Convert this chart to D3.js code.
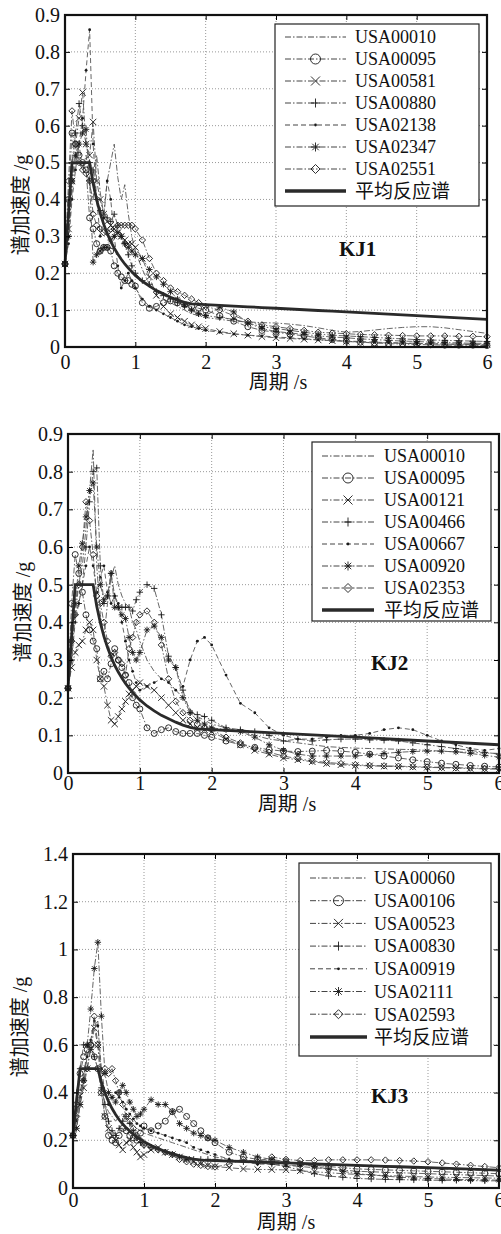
<!DOCTYPE html>
<html>
<head>
<meta charset="utf-8">
<script src="https://cdn.jsdelivr.net/npm/d3@7"></script>
<style>
  body { margin: 0; background: #fff; }
  svg { display: block; }
  svg text { font-family: "Liberation Serif", "Times New Roman", "Noto Sans CJK SC", serif; }
</style>
</head>
<body>
<script>
// period grid (s) shared by every spectrum
const periods = [0, 0.05, 0.1, 0.15, 0.2, 0.25, 0.3, 0.35, 0.4, 0.45, 0.5, 0.55, 0.6, 0.65, 0.7, 0.75, 0.8, 0.85, 0.9, 0.95, 1.0,
  1.1, 1.2, 1.3, 1.4, 1.5, 1.6, 1.7, 1.8, 1.9, 2.0,
  2.2, 2.4, 2.6, 2.8, 3.0, 3.2, 3.4, 3.6, 3.8, 4.0, 4.2, 4.4, 4.6, 4.8, 5.0, 5.2, 5.4, 5.6, 5.8, 6.0];

const meanSpectrum = [0.225, 0.3625, 0.5, 0.5, 0.5, 0.5, 0.5, 0.5, 0.443, 0.399, 0.363, 0.333, 0.308, 0.286, 0.268, 0.252, 0.238, 0.225, 0.214, 0.204, 0.194,
  0.178, 0.165, 0.153, 0.144, 0.135, 0.127, 0.121, 0.117, 0.116, 0.115,
  0.113, 0.111, 0.109, 0.107, 0.105, 0.103, 0.101, 0.099, 0.097, 0.095, 0.093, 0.091, 0.089, 0.087, 0.085, 0.083, 0.081, 0.079, 0.077, 0.075];

const xTicks = [0, 1, 2, 3, 4, 5, 6];
const yTicksKJ12 = [0, 0.1, 0.2, 0.3, 0.4, 0.5, 0.6, 0.7, 0.8, 0.9];
const yTicksKJ3 = [0, 0.2, 0.4, 0.6, 0.8, 1.0, 1.2, 1.4];

// KJ1
const kj1Names = ["USA00010", "USA00095", "USA00581", "USA00880", "USA02138", "USA02347", "USA02551"];
const kj1Spectra = [
  [0.225, 0.30, 0.42, 0.50, 0.55, 0.48, 0.52, 0.44, 0.40, 0.52, 0.42, 0.36, 0.45, 0.50, 0.55, 0.46, 0.40, 0.44, 0.36, 0.30, 0.26,
   0.21, 0.17, 0.15, 0.13, 0.12, 0.11, 0.10, 0.09, 0.085, 0.08,
   0.075, 0.07, 0.068, 0.066, 0.065, 0.062, 0.058, 0.052, 0.045, 0.04, 0.042, 0.046, 0.05, 0.053, 0.055, 0.055, 0.052, 0.047, 0.042, 0.037],
  [0.225, 0.40, 0.58, 0.55, 0.52, 0.50, 0.48, 0.35, 0.32, 0.28, 0.26, 0.27, 0.27, 0.26, 0.22, 0.20, 0.19, 0.18, 0.18, 0.17, 0.165,
   0.12, 0.105, 0.11, 0.12, 0.125, 0.12, 0.115, 0.11, 0.105, 0.10,
   0.085, 0.07, 0.055, 0.045, 0.04, 0.035, 0.03, 0.025, 0.02, 0.016, 0.013, 0.011, 0.009, 0.008, 0.007, 0.006, 0.005, 0.005, 0.005, 0.004],
  [0.225, 0.32, 0.45, 0.55, 0.62, 0.69, 0.55, 0.52, 0.61, 0.45, 0.40, 0.36, 0.34, 0.33, 0.32, 0.31, 0.30, 0.29, 0.28, 0.28, 0.27,
   0.24, 0.19, 0.14, 0.11, 0.09, 0.08, 0.07, 0.06, 0.055, 0.05,
   0.042, 0.036, 0.032, 0.028, 0.025, 0.023, 0.021, 0.019, 0.017, 0.015, 0.013, 0.012, 0.011, 0.010, 0.009, 0.009, 0.008, 0.008, 0.007, 0.007],
  [0.225, 0.30, 0.50, 0.58, 0.66, 0.60, 0.55, 0.50, 0.48, 0.40, 0.37, 0.36, 0.35, 0.34, 0.36, 0.33, 0.30, 0.28, 0.25, 0.22, 0.20,
   0.18, 0.17, 0.15, 0.14, 0.13, 0.12, 0.11, 0.10, 0.09, 0.085,
   0.08, 0.075, 0.065, 0.055, 0.05, 0.045, 0.04, 0.035, 0.032, 0.03, 0.028, 0.026, 0.024, 0.022, 0.02, 0.019, 0.018, 0.017, 0.016, 0.015],
  [0.225, 0.28, 0.40, 0.48, 0.55, 0.62, 0.75, 0.86, 0.55, 0.40, 0.30, 0.35, 0.45, 0.40, 0.30, 0.22, 0.16, 0.18, 0.20, 0.18, 0.16,
   0.13, 0.11, 0.10, 0.09, 0.08, 0.07, 0.06, 0.055, 0.05, 0.045,
   0.04, 0.035, 0.032, 0.03, 0.027, 0.025, 0.022, 0.02, 0.018, 0.016, 0.015, 0.013, 0.012, 0.011, 0.01, 0.009, 0.008, 0.007, 0.006, 0.005],
  [0.225, 0.30, 0.45, 0.52, 0.55, 0.58, 0.59, 0.45, 0.23, 0.25, 0.26, 0.27, 0.27, 0.29, 0.30, 0.31, 0.30, 0.28, 0.27, 0.26, 0.25,
   0.24, 0.21, 0.19, 0.17, 0.15, 0.13, 0.115, 0.10, 0.09, 0.085,
   0.108, 0.095, 0.065, 0.05, 0.042, 0.038, 0.034, 0.03, 0.027, 0.025, 0.022, 0.02, 0.018, 0.016, 0.015, 0.013, 0.012, 0.011, 0.01, 0.01],
  [0.225, 0.45, 0.64, 0.55, 0.50, 0.48, 0.47, 0.45, 0.36, 0.33, 0.32, 0.31, 0.31, 0.32, 0.32, 0.33, 0.33, 0.33, 0.33, 0.33, 0.32,
   0.29, 0.24, 0.20, 0.18, 0.16, 0.15, 0.14, 0.13, 0.12, 0.11,
   0.10, 0.085, 0.07, 0.06, 0.055, 0.05, 0.045, 0.04, 0.038, 0.036, 0.034, 0.033, 0.032, 0.031, 0.03, 0.03, 0.03, 0.029, 0.029, 0.028]
];

// KJ2
const kj2Names = ["USA00010", "USA00095", "USA00121", "USA00466", "USA00667", "USA00920", "USA02353"];
const kj2Spectra = [
  [0.225, 0.35, 0.45, 0.50, 0.55, 0.65, 0.75, 0.86, 0.55, 0.42, 0.36, 0.45, 0.52, 0.55, 0.50, 0.47, 0.45, 0.44, 0.40, 0.38, 0.35,
   0.30, 0.27, 0.25, 0.24, 0.22, 0.20, 0.17, 0.15, 0.14, 0.13,
   0.12, 0.11, 0.10, 0.09, 0.085, 0.08, 0.075, 0.07, 0.068, 0.066, 0.065, 0.064, 0.063, 0.062, 0.06, 0.058, 0.056, 0.055, 0.053, 0.052],
  [0.225, 0.45, 0.58, 0.53, 0.48, 0.42, 0.38, 0.35, 0.33, 0.25, 0.27, 0.25, 0.29, 0.33, 0.30, 0.28, 0.26, 0.24, 0.20, 0.18, 0.17,
   0.12, 0.105, 0.115, 0.12, 0.11, 0.105, 0.105, 0.105, 0.10, 0.095,
   0.085, 0.075, 0.068, 0.062, 0.058, 0.057, 0.058, 0.06, 0.058, 0.055, 0.05, 0.045, 0.04, 0.035, 0.03, 0.026, 0.023, 0.02, 0.018, 0.016],
  [0.225, 0.28, 0.32, 0.34, 0.35, 0.38, 0.40, 0.38, 0.30, 0.25, 0.23, 0.18, 0.14, 0.13, 0.15, 0.17, 0.19, 0.21, 0.22, 0.23, 0.24,
   0.23, 0.22, 0.20, 0.18, 0.16, 0.14, 0.13, 0.12, 0.115, 0.11,
   0.09, 0.075, 0.06, 0.05, 0.04, 0.035, 0.03, 0.025, 0.022, 0.02, 0.019, 0.018, 0.017, 0.016, 0.015, 0.014, 0.013, 0.012, 0.011, 0.01],
  [0.225, 0.30, 0.42, 0.45, 0.50, 0.60, 0.72, 0.80, 0.81, 0.55, 0.45, 0.47, 0.53, 0.47, 0.44, 0.44, 0.44, 0.44, 0.43, 0.46, 0.48,
   0.50, 0.49, 0.42, 0.31, 0.28, 0.22, 0.16, 0.155, 0.15, 0.14,
   0.12, 0.115, 0.11, 0.10, 0.085, 0.09, 0.085, 0.088, 0.09, 0.09, 0.088, 0.087, 0.085, 0.08, 0.075, 0.07, 0.065, 0.06, 0.055, 0.05],
  [0.225, 0.30, 0.40, 0.45, 0.50, 0.55, 0.60, 0.55, 0.48, 0.52, 0.55, 0.48, 0.45, 0.47, 0.45, 0.40, 0.35, 0.30, 0.27, 0.24, 0.22,
   0.23, 0.24, 0.25, 0.24, 0.22, 0.23, 0.30, 0.35, 0.36, 0.34,
   0.26, 0.185, 0.16, 0.12, 0.10, 0.09, 0.09, 0.095, 0.10, 0.10, 0.105, 0.115, 0.12, 0.115, 0.10, 0.085, 0.075, 0.065, 0.06, 0.065],
  [0.225, 0.35, 0.45, 0.55, 0.61, 0.68, 0.75, 0.77, 0.60, 0.50, 0.46, 0.47, 0.53, 0.44, 0.44, 0.42, 0.41, 0.36, 0.32, 0.30, 0.32,
   0.38, 0.39, 0.36, 0.30, 0.28, 0.20, 0.16, 0.14, 0.13, 0.12,
   0.115, 0.11, 0.095, 0.075, 0.06, 0.05, 0.045, 0.045, 0.045, 0.045, 0.048, 0.052, 0.055, 0.057, 0.058, 0.058, 0.056, 0.052, 0.047, 0.042],
  [0.225, 0.35, 0.42, 0.50, 0.60, 0.72, 0.67, 0.58, 0.47, 0.45, 0.40, 0.35, 0.31, 0.32, 0.30, 0.29, 0.26, 0.33, 0.36, 0.40, 0.42,
   0.43, 0.40, 0.34, 0.25, 0.19, 0.16, 0.14, 0.13, 0.12, 0.115,
   0.095, 0.08, 0.065, 0.055, 0.045, 0.038, 0.032, 0.028, 0.025, 0.022, 0.02, 0.019, 0.018, 0.017, 0.016, 0.015, 0.014, 0.013, 0.012, 0.012]
];

// KJ3
const kj3Names = ["USA00060", "USA00106", "USA00523", "USA00830", "USA00919", "USA02111", "USA02593"];
const kj3Spectra = [
  [0.22, 0.30, 0.40, 0.48, 0.55, 0.62, 0.68, 0.70, 0.45, 0.35, 0.32, 0.30, 0.28, 0.30, 0.31, 0.30, 0.28, 0.26, 0.25, 0.24, 0.23,
   0.22, 0.21, 0.20, 0.19, 0.18, 0.17, 0.16, 0.15, 0.14, 0.13,
   0.12, 0.11, 0.105, 0.10, 0.095, 0.09, 0.085, 0.08, 0.075, 0.07, 0.068, 0.066, 0.064, 0.062, 0.06, 0.058, 0.056, 0.054, 0.052, 0.05],
  [0.22, 0.35, 0.48, 0.55, 0.58, 0.60, 0.55, 0.50, 0.40, 0.30, 0.22, 0.20, 0.19, 0.22, 0.25, 0.24, 0.22, 0.21, 0.20, 0.23, 0.26,
   0.24, 0.26, 0.28, 0.32, 0.33, 0.30, 0.27, 0.24, 0.21, 0.19,
   0.15, 0.13, 0.12, 0.115, 0.11, 0.10, 0.095, 0.09, 0.085, 0.08, 0.078, 0.076, 0.074, 0.072, 0.07, 0.068, 0.066, 0.064, 0.062, 0.06],
  [0.22, 0.25, 0.35, 0.42, 0.50, 0.58, 0.67, 0.60, 0.40, 0.30, 0.25, 0.22, 0.20, 0.18, 0.16, 0.19, 0.20, 0.17, 0.15, 0.13, 0.14,
   0.16, 0.17, 0.15, 0.14, 0.13, 0.12, 0.11, 0.10, 0.095, 0.09,
   0.085, 0.08, 0.078, 0.077, 0.076, 0.072, 0.068, 0.064, 0.06, 0.057, 0.055, 0.052, 0.05, 0.048, 0.046, 0.045, 0.044, 0.043, 0.042, 0.041],
  [0.22, 0.40, 0.50, 0.60, 0.60, 0.58, 0.55, 0.50, 0.42, 0.35, 0.28, 0.24, 0.22, 0.25, 0.28, 0.30, 0.27, 0.24, 0.21, 0.19, 0.18,
   0.17, 0.16, 0.15, 0.14, 0.13, 0.12, 0.12, 0.12, 0.12, 0.12,
   0.115, 0.11, 0.105, 0.10, 0.09, 0.075, 0.06, 0.05, 0.045, 0.04, 0.038, 0.036, 0.035, 0.034, 0.033, 0.032, 0.032, 0.031, 0.03, 0.03],
  [0.22, 0.28, 0.38, 0.45, 0.55, 0.62, 0.70, 0.68, 0.50, 0.40, 0.35, 0.38, 0.40, 0.38, 0.36, 0.33, 0.31, 0.29, 0.27, 0.26, 0.25,
   0.24, 0.23, 0.22, 0.21, 0.20, 0.19, 0.17, 0.16, 0.15, 0.14,
   0.12, 0.11, 0.10, 0.10, 0.095, 0.095, 0.095, 0.095, 0.095, 0.095, 0.093, 0.09, 0.088, 0.085, 0.083, 0.08, 0.078, 0.076, 0.074, 0.072],
  [0.22, 0.25, 0.35, 0.45, 0.60, 0.75, 0.92, 1.03, 0.72, 0.48, 0.40, 0.38, 0.36, 0.40, 0.43, 0.40, 0.36, 0.33, 0.30, 0.31, 0.33,
   0.37, 0.35, 0.35, 0.32, 0.27, 0.25, 0.23, 0.22, 0.21, 0.20,
   0.17, 0.15, 0.13, 0.12, 0.11, 0.10, 0.09, 0.08, 0.07, 0.06, 0.055, 0.05, 0.045, 0.042, 0.04, 0.038, 0.036, 0.035, 0.034, 0.033],
  [0.22, 0.30, 0.40, 0.45, 0.50, 0.60, 0.72, 0.60, 0.48, 0.50, 0.48, 0.50, 0.45, 0.40, 0.35, 0.30, 0.28, 0.25, 0.22, 0.20, 0.18,
   0.17, 0.16, 0.15, 0.14, 0.12, 0.11, 0.10, 0.095, 0.09, 0.088,
   0.10, 0.12, 0.11, 0.13, 0.12, 0.115, 0.115, 0.118, 0.118, 0.118, 0.118, 0.117, 0.115, 0.113, 0.11, 0.105, 0.10, 0.095, 0.09, 0.085]
];

const markerKinds = ["none", "circle", "x", "plus", "dot", "star", "diamond"];

const svg = d3.select("body").append("svg")
    .attr("width", 501)
    .attr("height", 1234);

// marker glyph path, MATLAB style
function markerPath(kind, s) {
  const t = s * 0.72;
  switch (kind) {
    case "x": return `M${-s},${-s}L${s},${s}M${-s},${s}L${s},${-s}`;
    case "plus": return `M${-s},0H${s}M0,${-s}V${s}`;
    case "star": return `M${-s},0H${s}M0,${-s}V${s}M${-t},${-t}L${t},${t}M${-t},${t}L${t},${-t}`;
    case "diamond": return `M0,${-s}L${s},0L0,${s}L${-s},0Z`;
  }
  return null;
}

function addMarkers(sel, kind, s) {
  if (kind === "none") return;
  if (kind === "circle") {
    sel.append("circle").attr("r", s).attr("fill", "none").attr("stroke", "#1a1a1a").attr("stroke-width", 0.9);
  } else if (kind === "dot") {
    sel.append("circle").attr("r", 1.4).attr("fill", "#1a1a1a");
  } else {
    sel.append("path").attr("d", markerPath(kind, s)).attr("fill", "none")
      .attr("stroke", "#1a1a1a").attr("stroke-width", 0.9);
  }
}

const dashFor = kind => kind === "dot" ? "5,3" : "6,2,1.5,2";

function drawPanel(p) {
  const g = svg.append("g");
  const x = d3.scaleLinear().domain([0, 6]).range([p.left, p.right]);
  const y = d3.scaleLinear().domain([0, p.yMax]).range([p.bottom, p.top]);

  // dotted grid
  g.append("g").selectAll("line").data(xTicks.slice(1, -1)).join("line")
      .attr("x1", d => x(d)).attr("x2", d => x(d))
      .attr("y1", p.top).attr("y2", p.bottom)
      .attr("stroke", "#999").attr("stroke-dasharray", "1,2");
  g.append("g").selectAll("line").data(p.yTicks.slice(1, -1)).join("line")
      .attr("x1", p.left).attr("x2", p.right)
      .attr("y1", d => y(d)).attr("y2", d => y(d))
      .attr("stroke", "#999").attr("stroke-dasharray", "1,2");

  const line = d3.line().x((d, i) => x(periods[i])).y(d => y(d));

  // records
  p.spectra.forEach((vals, k) => {
    const kind = markerKinds[k];
    g.append("path").datum(vals)
        .attr("d", line)
        .attr("fill", "none")
        .attr("stroke", "#555")
        .attr("stroke-width", 0.9)
        .attr("stroke-dasharray", dashFor(kind));
    const m = g.append("g").selectAll("g").data(vals).join("g")
        .attr("transform", (d, i) => `translate(${x(periods[i])},${y(d)})`);
    addMarkers(m, kind, kind === "circle" ? 3 : 3.2);
  });

  // mean response spectrum
  g.append("path").datum(meanSpectrum)
      .attr("d", line)
      .attr("fill", "none")
      .attr("stroke", "#2a2a2a")
      .attr("stroke-width", 2.8);

  // axes with inward ticks
  const fmt = d => String(+d.toFixed(1));
  const bottom = g.append("g").attr("transform", `translate(0,${p.bottom})`)
      .call(d3.axisBottom(x).tickValues(xTicks).tickFormat(fmt).tickSizeInner(-5).tickSizeOuter(0).tickPadding(p.xPad));
  const left = g.append("g").attr("transform", `translate(${p.left},0)`)
      .call(d3.axisLeft(y).tickValues(p.yTicks).tickFormat(fmt).tickSizeInner(-5).tickSizeOuter(0).tickPadding(5));
  g.append("g").attr("transform", `translate(0,${p.top})`)
      .call(d3.axisTop(x).tickValues(xTicks).tickFormat("").tickSizeInner(-5).tickSizeOuter(0));
  g.append("g").attr("transform", `translate(${p.right},0)`)
      .call(d3.axisRight(y).tickValues(p.yTicks).tickFormat("").tickSizeInner(-5).tickSizeOuter(0));
  g.selectAll(".domain").remove();
  [bottom, left].forEach(a => a.attr("font-family", null).attr("font-size", 20));
  g.selectAll(".tick text").attr("fill", "#111");

  g.append("rect")
      .attr("x", p.left).attr("y", p.top)
      .attr("width", p.right - p.left).attr("height", p.bottom - p.top)
      .attr("fill", "none").attr("stroke", "#111").attr("stroke-width", 2.2);

  // legend
  const L = p.legend;
  const lg = g.append("g");
  lg.append("rect")
      .attr("x", L.l).attr("y", L.t)
      .attr("width", L.r - L.l).attr("height", L.b - L.t)
      .attr("fill", "#fff").attr("stroke", "#222").attr("stroke-width", 1.2);
  p.names.forEach((name, k) => {
    const kind = markerKinds[k];
    const cy = L.row0 + k * L.dy;
    lg.append("line")
        .attr("x1", L.lx0).attr("x2", L.lx1).attr("y1", cy).attr("y2", cy)
        .attr("stroke", "#444").attr("stroke-width", 1)
        .attr("stroke-dasharray", dashFor(kind));
    const mk = lg.append("g").attr("transform", `translate(${(L.lx0 + L.lx1) / 2},${cy})`);
    addMarkers(mk, kind, kind === "circle" ? 5 : 4.5);
    lg.append("text")
        .attr("x", L.tx).attr("y", cy).attr("dy", "0.35em")
        .attr("font-size", 18).attr("fill", "#111")
        .text(name);
  });
  const cyMean = L.row0 + p.names.length * L.dy;
  lg.append("line")
      .attr("x1", L.lx0).attr("x2", L.lx1).attr("y1", cyMean).attr("y2", cyMean)
      .attr("stroke", "#2a2a2a").attr("stroke-width", 3.5);
  lg.append("text")
      .attr("x", L.tx).attr("y", cyMean).attr("dy", "0.36em")
      .attr("font-size", 19).attr("fill", "#111")
      .text("平均反应谱");

  // frame label
  g.append("text")
      .attr("x", p.kj[0]).attr("y", p.kj[1])
      .attr("font-size", 21).attr("font-weight", "bold").attr("fill", "#111")
      .text(p.label);

  // axis titles
  g.append("text")
      .attr("x", p.xt[0]).attr("y", p.xt[1])
      .attr("text-anchor", "middle")
      .attr("font-size", 20).attr("fill", "#111")
      .text("周期 /s");
  g.append("text")
      .attr("transform", `translate(${p.yt[0]},${p.yt[1]}) rotate(-90)`)
      .attr("text-anchor", "middle").attr("dy", "0.35em")
      .attr("font-size", 20).attr("fill", "#111")
      .text("谱加速度 /g");
}

drawPanel({
  names: kj1Names, spectra: kj1Spectra, label: "KJ1", yMax: 0.9, yTicks: yTicksKJ12,
  left: 65, right: 487, top: 15, bottom: 347, xPad: 8,
  legend: { l: 275, t: 24, r: 479, b: 206, row0: 37, dy: 22, lx0: 285, lx1: 346, tx: 355 },
  kj: [339, 256], xt: [278, 389], yt: [21, 205]
});
drawPanel({
  names: kj2Names, spectra: kj2Spectra, label: "KJ2", yMax: 0.9, yTicks: yTicksKJ12,
  left: 68, right: 499, top: 434, bottom: 773, xPad: 3,
  legend: { l: 312, t: 442, r: 491, b: 621, row0: 456, dy: 22, lx0: 322, lx1: 374, tx: 384 },
  kj: [371, 670], xt: [287, 811], yt: [23, 612]
});
drawPanel({
  names: kj3Names, spectra: kj3Spectra, label: "KJ3", yMax: 1.4, yTicks: yTicksKJ3,
  left: 73, right: 499, top: 854, bottom: 1188, xPad: 5,
  legend: { l: 299, t: 863, r: 491, b: 1056, row0: 878, dy: 22.7, lx0: 310, lx1: 367, tx: 374 },
  kj: [371, 1103], xt: [286, 1229], yt: [20, 1027]
});
</script>
</body>
</html>
